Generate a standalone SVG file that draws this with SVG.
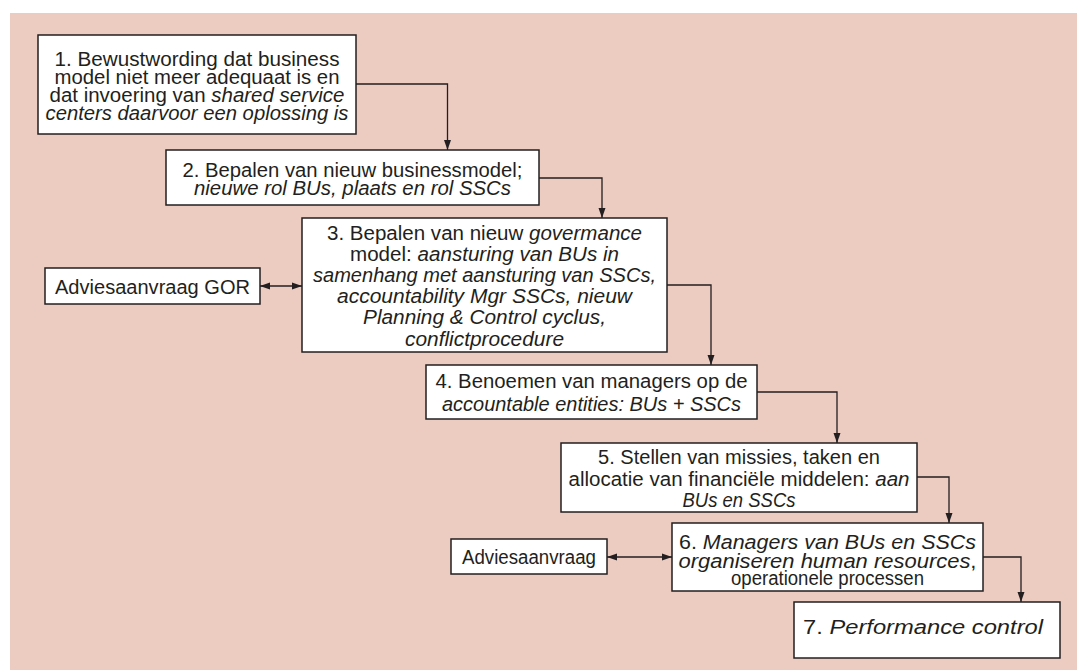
<svg xmlns="http://www.w3.org/2000/svg" width="1077" height="670" viewBox="0 0 1077 670">
<style>
.box{fill:#fff;stroke:#231f20;stroke-width:1.5}
.t{font-family:"Liberation Sans",Arial,sans-serif;font-size:20px;fill:#231f20;text-anchor:middle}
.i{font-style:italic}
.c{fill:none;stroke:#231f20;stroke-width:1.3}
</style>
<defs>
<marker id="ah" markerUnits="userSpaceOnUse" markerWidth="10" markerHeight="8" refX="10" refY="4" orient="auto-start-reverse">
<path d="M0,0.5 L10,4 L0,7.5 z" fill="#231f20"/>
</marker>
</defs>
<rect x="10" y="13" width="1067" height="657" fill="#eccbc1"/>
<g id="connectors">
<path class="c" d="M356,84 H447.5 V150" marker-end="url(#ah)"/>
<path class="c" d="M539,178 H602 V218" marker-end="url(#ah)"/>
<path class="c" d="M667,285 H711 V365" marker-end="url(#ah)"/>
<path class="c" d="M757,392 H837 V443" marker-end="url(#ah)"/>
<path class="c" d="M917,477 H949 V523" marker-end="url(#ah)"/>
<path class="c" d="M983,557 H1021 V602" marker-end="url(#ah)"/>
<path class="c" d="M260,286 H302" marker-start="url(#ah)" marker-end="url(#ah)"/>
<path class="c" d="M607,557 H672" marker-start="url(#ah)" marker-end="url(#ah)"/>
</g>
<g id="node1">
<rect class="box" x="38" y="35" width="318" height="99"/>
<text class="t" x="197" y="66" textLength="285" lengthAdjust="spacingAndGlyphs">1. Bewustwording dat business</text>
<text class="t" x="197" y="84" textLength="285" lengthAdjust="spacingAndGlyphs">model niet meer adequaat is en</text>
<text class="t" x="197" y="102" textLength="295" lengthAdjust="spacingAndGlyphs">dat invoering van <tspan class="i">shared service</tspan></text>
<text class="t i" x="197" y="120" textLength="303" lengthAdjust="spacingAndGlyphs">centers daarvoor een oplossing is</text>
</g>
<g id="node2">
<rect class="box" x="166" y="150" width="373" height="55"/>
<text class="t" x="352.5" y="176.5" textLength="340" lengthAdjust="spacingAndGlyphs">2. Bepalen van nieuw businessmodel;</text>
<text class="t i" x="352.5" y="195" textLength="317" lengthAdjust="spacingAndGlyphs">nieuwe rol BUs, plaats en rol SSCs</text>
</g>
<g id="node3">
<rect class="box" x="302" y="218" width="365" height="134"/>
<text class="t" x="484.5" y="239.5" textLength="315" lengthAdjust="spacingAndGlyphs">3. Bepalen van nieuw <tspan class="i">govermance</tspan></text>
<text class="t" x="484.5" y="260.5" textLength="269" lengthAdjust="spacingAndGlyphs">model: <tspan class="i">aansturing van BUs in</tspan></text>
<text class="t i" x="484.5" y="281.5" textLength="343" lengthAdjust="spacingAndGlyphs">samenhang met aansturing van SSCs,</text>
<text class="t i" x="484.5" y="303" textLength="295" lengthAdjust="spacingAndGlyphs">accountability Mgr SSCs, nieuw</text>
<text class="t i" x="484.5" y="324" textLength="243" lengthAdjust="spacingAndGlyphs">Planning &amp; Control cyclus,</text>
<text class="t i" x="484.5" y="345.5" textLength="159" lengthAdjust="spacingAndGlyphs">conflictprocedure</text>
</g>
<g id="node4">
<rect class="box" x="426" y="365" width="331" height="54"/>
<text class="t" x="591.5" y="388" textLength="312" lengthAdjust="spacingAndGlyphs">4. Benoemen van managers op de</text>
<text class="t i" x="591.5" y="410.5" textLength="299" lengthAdjust="spacingAndGlyphs">accountable entities: BUs + SSCs</text>
</g>
<g id="node5">
<rect class="box" x="561" y="443" width="356" height="69"/>
<text class="t" x="739" y="464" textLength="282" lengthAdjust="spacingAndGlyphs">5. Stellen van missies, taken en</text>
<text class="t" x="739" y="486" textLength="341" lengthAdjust="spacingAndGlyphs">allocatie van financiële middelen: <tspan class="i">aan</tspan></text>
<text class="t i" x="739" y="506.5" textLength="113" lengthAdjust="spacingAndGlyphs">BUs en SSCs</text>
</g>
<g id="node6">
<rect class="box" x="672" y="523" width="311" height="68"/>
<text class="t" x="827.5" y="549" textLength="297" lengthAdjust="spacingAndGlyphs">6. <tspan class="i">Managers van BUs en SSCs</tspan></text>
<text class="t" x="827.5" y="568" textLength="298" lengthAdjust="spacingAndGlyphs"><tspan class="i">organiseren human resources</tspan>,</text>
<text class="t" x="827.5" y="585" textLength="193" lengthAdjust="spacingAndGlyphs">operationele processen</text>
</g>
<g id="node7">
<rect class="box" x="794" y="602" width="266" height="56"/>
<text class="t" x="923" y="634" textLength="240" lengthAdjust="spacingAndGlyphs">7. <tspan class="i">Performance control</tspan></text>
</g>
<g id="advies-gor">
<rect class="box" x="45" y="268" width="215" height="36"/>
<text class="t" x="152.5" y="294" textLength="195" lengthAdjust="spacingAndGlyphs">Adviesaanvraag GOR</text>
</g>
<g id="advies">
<rect class="box" x="451" y="539" width="156" height="35"/>
<text class="t" x="529" y="564" textLength="134" lengthAdjust="spacingAndGlyphs">Adviesaanvraag</text>
</g>
</svg>
